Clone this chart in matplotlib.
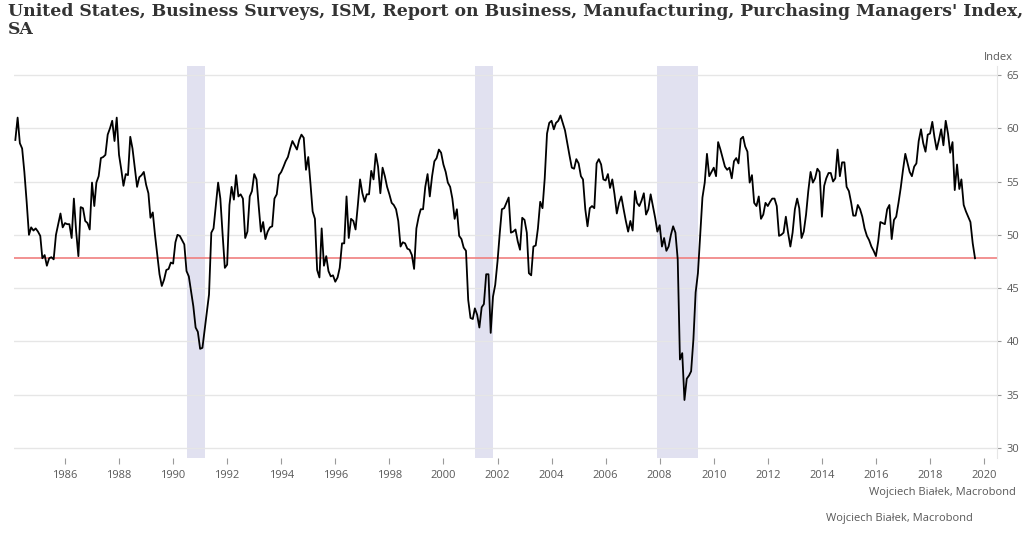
import matplotlib
matplotlib.use("Agg")
import matplotlib.pyplot as plt
import pandas as pd

# ---------------- data (monthly, SA) ----------------
start_month = "1984-03-01"
pmi = [
    # 1984 (Mar-Dec)
    58.9, 61.0, 58.6, 58.1, 55.9, 53.1, 50.0, 50.7, 50.4, 50.6,
    # 1985
    50.3, 49.9, 47.8, 48.1, 47.1, 47.8, 47.9, 47.7, 50.0, 51.0, 52.0, 50.7,
    # 1986
    51.1, 51.0, 51.0, 49.7, 53.4, 50.3, 48.0, 52.6, 52.5, 51.3, 51.1, 50.5,
    # 1987
    54.9, 52.7, 54.9, 55.5, 57.2, 57.3, 57.5, 59.4, 60.0, 60.7, 58.8, 61.0,
    # 1988
    57.5, 56.1, 54.6, 55.7, 55.6, 59.2, 58.1, 56.3, 54.5, 55.4, 55.6, 55.9,
    # 1989
    54.7, 53.9, 51.6, 52.1, 50.0, 48.1, 46.3, 45.2, 45.8, 46.7, 46.8, 47.4,
    # 1990
    47.3, 49.3, 50.0, 49.9, 49.5, 49.1, 46.6, 46.1, 44.7, 43.3, 41.3, 40.9,
    # 1991
    39.3, 39.4, 41.0, 42.8, 44.4, 50.2, 50.6, 52.8, 54.9, 53.4, 50.0, 46.9,
    # 1992
    47.2, 52.8, 54.5, 53.3, 55.6, 53.6, 53.8, 53.4, 49.7, 50.3, 53.6, 54.1,
    # 1993
    55.7, 55.2, 52.8, 50.3, 51.2, 49.6, 50.3, 50.7, 50.8, 53.4, 53.8, 55.6,
    # 1994
    55.9, 56.4, 56.9, 57.3, 58.1, 58.8, 58.4, 58.0, 58.9, 59.4, 59.1, 56.1,
    # 1995
    57.3, 54.7, 52.2, 51.5, 46.7, 46.0, 50.6, 47.1, 48.0, 46.6, 46.1, 46.2,
    # 1996
    45.6, 46.0, 46.9, 49.2, 49.2, 53.6, 49.7, 51.5, 51.3, 50.5, 52.8, 55.2,
    # 1997
    53.9, 53.1, 53.8, 53.8, 56.0, 55.2, 57.6, 56.4, 53.9, 56.3, 55.5, 54.5,
    # 1998
    53.8, 53.0, 52.8, 52.4, 51.3, 48.9, 49.3, 49.2, 48.7, 48.6, 48.1, 46.8,
    # 1999
    50.6, 51.7, 52.4, 52.4, 54.5, 55.7, 53.6, 55.5, 56.9, 57.2, 58.0, 57.7,
    # 2000
    56.6, 55.9, 54.9, 54.5, 53.4, 51.5, 52.4, 49.9, 49.6, 48.8, 48.5, 43.9,
    # 2001
    42.2, 42.1, 43.1, 42.5, 41.3, 43.2, 43.5, 46.3, 46.3, 40.8, 44.2, 45.3,
    # 2002
    47.5, 50.2, 52.4, 52.5, 53.0, 53.5, 50.2, 50.3, 50.5, 49.4, 48.6, 51.6,
    # 2003
    51.4, 50.2, 46.4, 46.2, 48.9, 49.0, 50.6, 53.1, 52.5, 55.3, 59.5, 60.5,
    # 2004
    60.7, 59.9, 60.5, 60.7, 61.2, 60.5, 59.8, 58.6, 57.4, 56.3, 56.2, 57.1,
    # 2005
    56.7, 55.5, 55.2, 52.4, 50.8, 52.5, 52.7, 52.5, 56.7, 57.1, 56.6, 55.2,
    # 2006
    55.1, 55.7, 54.4, 55.2, 53.8, 52.0, 53.0, 53.6, 52.4, 51.3, 50.3, 51.3,
    # 2007
    50.4, 54.1, 53.0, 52.7, 53.2, 53.9, 51.9, 52.4, 53.8, 52.7, 51.6, 50.3,
    # 2008
    50.9, 48.9, 49.7, 48.5, 48.9, 50.0, 50.8, 50.2, 47.7, 38.3, 38.9, 34.5,
    # 2009
    36.5, 36.8, 37.2, 40.2, 44.6, 46.4, 49.9, 53.5, 54.9, 57.6, 55.5, 55.9,
    # 2010
    56.3, 55.5, 58.7, 58.0, 57.2, 56.4, 56.1, 56.3, 55.3, 56.9, 57.2, 56.7,
    # 2011
    59.0, 59.2, 58.3, 57.8, 54.9, 55.6, 53.0, 52.7, 53.6, 51.5, 51.9, 53.0,
    # 2012
    52.7, 53.1, 53.4, 53.4, 52.7, 49.9, 50.0, 50.2, 51.7, 50.2, 48.9, 50.2,
    # 2013
    52.4, 53.4, 52.5, 49.7, 50.3, 51.9, 54.1, 55.9, 54.9, 55.3, 56.2, 55.9,
    # 2014
    51.7, 54.6, 55.3, 55.8, 55.8, 55.0, 55.3, 58.0, 55.5, 56.8, 56.8, 54.5,
    # 2015
    54.1, 53.0, 51.8, 51.8, 52.8, 52.4, 51.7, 50.6, 49.9, 49.5, 48.9, 48.5,
    # 2016
    48.0, 49.4, 51.2, 51.1, 51.0, 52.4, 52.8, 49.6, 51.4, 51.7, 53.0, 54.4,
    # 2017
    56.1, 57.6, 56.8, 55.9, 55.5, 56.4, 56.7, 58.8, 59.9, 58.6, 57.8, 59.4,
    # 2018
    59.5, 60.6, 59.2, 58.0, 58.9, 59.9, 58.4, 60.7, 59.5, 57.7, 58.7, 54.2,
    # 2019 (Jan-Sep)
    56.6, 54.3, 55.2, 52.8, 52.2, 51.7, 51.2, 49.2, 47.8,
]

recession_starts = ["1990-07-01", "2001-03-01", "2007-12-01"]
recession_ends = ["1991-03-01", "2001-11-01", "2009-06-01"]

y_ticks = [30, 35, 40, 45, 50, 55, 60, 65]
x_tick_years = list(range(1986, 2021, 2))

title = ("United States, Business Surveys, ISM, Report on Business, Manufacturing, "
         "Purchasing Managers' Index,\nSA")
unit_label = "Index"
credit = "Wojciech Białek, Macrobond"

# ---------------- figure ----------------
W, H = 1024, 535
fig = plt.figure(figsize=(W / 100, H / 100), dpi=100)
fig.patch.set_facecolor("white")

left_px, right_px, top_px, bottom_px = 14, 997, 66, 458
ax = fig.add_axes([left_px / W, 1 - bottom_px / H,
                   (right_px - left_px) / W, (bottom_px - top_px) / H])

dates = pd.date_range(start_month, periods=len(pmi), freq="MS")

for s, e in zip(recession_starts, recession_ends):
    ax.axvspan(pd.Timestamp(s), pd.Timestamp(e), color="#e1e1f0", lw=0, zorder=0)

ax.axhline(pmi[-1], color="#f07f7f", lw=1.2, zorder=2)
ax.plot(dates, pmi, color="black", lw=1.3, zorder=3)

ax.set_xlim(pd.Timestamp("1984-02-12"), pd.Timestamp("2020-06-24"))
ax.set_ylim(29.06, 65.84)

ax.yaxis.tick_right()
ax.set_yticks(y_ticks)
ax.set_xticks([pd.Timestamp(f"{y}-01-01") for y in x_tick_years])
ax.set_xticklabels([str(y) for y in x_tick_years])

ax.grid(axis="y", color="#e6e6e6", lw=1.0, zorder=1)
ax.grid(axis="x", visible=False)
ax.set_axisbelow(True)

for side in ["top", "left", "bottom"]:
    ax.spines[side].set_visible(False)
ax.spines["right"].set_color("#e6e6e6")
ax.spines["right"].set_linewidth(0.8)

ax.tick_params(axis="y", direction="out", length=3, width=0.8, color="#9a9a9a",
               labelcolor="#595959", pad=4, labelsize=8)
ax.tick_params(axis="x", direction="out", length=4, width=0.8, color="#9a9a9a",
               labelcolor="#595959", pad=5, labelsize=8)
for lab in ax.get_xticklabels() + ax.get_yticklabels():
    lab.set_fontfamily(["Open Sans", "DejaVu Sans"])

fig.text(8 / W, 1 - 3 / H, title, ha="left", va="top",
         fontsize=12.4, fontweight="bold", color="#333333",
         family=["DejaVu Serif"], linespacing=1.1)

fig.text(1013 / W, 1 - 58 / H, unit_label, ha="right", va="center",
         fontsize=8, color="#595959", family=["Open Sans", "DejaVu Sans"])

fig.text(1016 / W, 1 - 492 / H, credit, ha="right", va="center",
         fontsize=8, color="#595959", family=["Open Sans", "DejaVu Sans"])
fig.text(973 / W, 1 - 519 / H, credit, ha="right", va="center",
         fontsize=8, color="#595959", family=["Open Sans", "DejaVu Sans"])

fig.savefig("out.png", dpi=100, facecolor="white")
